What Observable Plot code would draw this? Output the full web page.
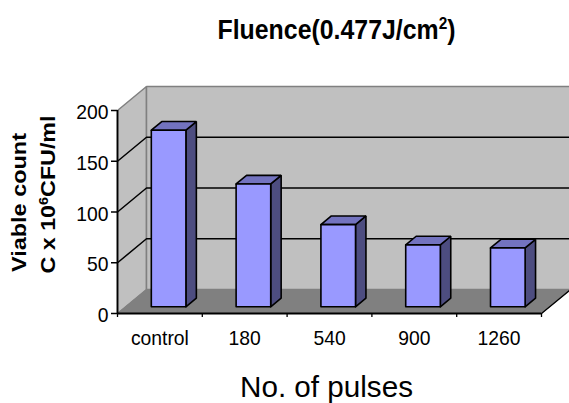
<!DOCTYPE html>
<html><head><meta charset="utf-8">
<script src="https://cdn.jsdelivr.net/npm/d3@7"></script>
<script src="https://cdn.jsdelivr.net/npm/@observablehq/plot@0.6"></script>
<style>html,body{margin:0;background:#fff}svg{display:block}</style>
</head><body><div id="c"></div>
<script>
const categories = ["control", "180", "540", "900", "1260"];
const viable = [174, 121, 81, 61, 58];
const yTicks = [0, 50, 100, 150, 200];
const gridValues = [50, 100, 150];

// oblique projection, in data units
const depthX = 0.342, depthY = 23.6;
const P = (c, v, d) => ({x: c + d * depthX, y: v + d * depthY});
const poly = (id, pts) => pts.map(p => ({id, ...p}));
const bL = 0.303, bR = 0.711, dF = 0.28, dB = 0.64;

const leftWall = poly("l", [P(0,0,0), P(0,0,1), P(0,200,1), P(0,200,0), P(0,0,0)]);
const backWall = poly("b", [P(0,0,1), P(5,0,1), P(5,200,1), P(0,200,1), P(0,0,1)]);
const floorPlane = poly("f", [P(0,0,0), P(5,0,0), P(5,0,1), P(0,0,1), P(0,0,0)]);
const gridLines = gridValues.flatMap(v => poly("g"+v, [P(0,v,0), P(0,v,1), P(5,v,1)]));
const barFace = [], barTop = [], barSide = [];
viable.forEach((v, i) => {
  const a = i + bL, b = i + bR;
  barFace.push(...poly("a"+i, [P(a,0,dF), P(b,0,dF), P(b,v,dF), P(a,v,dF), P(a,0,dF)]));
  barTop.push(...poly("t"+i, [P(a,v,dF), P(b,v,dF), P(b,v,dB), P(a,v,dB), P(a,v,dF)]));
  barSide.push(...poly("s"+i, [P(b,0,dF), P(b,0,dB), P(b,v,dB), P(b,v,dF), P(b,0,dF)]));
});
const shape = (d, fill, stroke, sw) => Plot.line(d, {x:"x", y:"y", z:"id", fill, stroke, strokeWidth:sw, curve:"linear", strokeLinejoin:"miter"});
const label = (t, o) => Plot.text([t], {text:d=>d, fill:"#000", fontFamily:"Liberation Sans", frameAnchor:"top-left", textAnchor:"middle", lineAnchor:"middle", ...o});

const chart = Plot.plot({
  width:569, height:403, marginLeft:117, marginRight:28, marginTop:110, marginBottom:90,
  style:{background:"#fff", fontFamily:"Liberation Sans", overflow:"hidden"},
  x:{type:"linear", domain:[0,5], axis:null},
  y:{type:"linear", domain:[0,200], axis:null},
  marks:[
    shape(leftWall, "#c0c0c0", "#808080", 1.5),
    shape(backWall, "#c0c0c0", "#808080", 1.5),
    shape(gridLines, "none", "#000", 1.5),
    shape(floorPlane, "#808080", "#808080", 1),
    shape(barSide, "#4d4d80", "#000", 1.6),
    shape(barTop, "#7373bf", "#000", 1.6),
    shape(barFace, "#9999ff", "#000", 1.6),
    Plot.ruleY([0], {stroke:"#000", strokeWidth:1.8}),
    Plot.ruleX([0], {stroke:"#000", strokeWidth:1.8}),
    Plot.line(poly("e",[P(5,0,0),P(5,0,1)]), {x:"x",y:"y",stroke:"#000",strokeWidth:1.3}),
    Plot.axisY({ticks:yTicks, anchor:"left", tickSize:6, tickFormat:()=>"", label:null, strokeWidth:1.5}),
    Plot.axisY({ticks:yTicks, anchor:"left", tickSize:0, tickPadding:9, dy:2, fontSize:21, label:null}),
    Plot.axisX({ticks:d3.range(0,6), tickFormat:()=>"", anchor:"bottom", tickSize:4, label:null, strokeWidth:1.3}),
    Plot.axisX({ticks:categories.map((c,i)=>i+0.5), tickFormat:t=>categories[t-0.5], anchor:"bottom", tickSize:0, tickPadding:17, fontSize:21, label:null}),
    label("Fluence(0.477J/cm^2^)", {dx:219, dy:-80, fontSize:28, fontWeight:"bold"}),
    label("No. of pulses", {dx:209, dy:277, fontSize:30}),
    label("Viable count", {dx:-98, dy:92, rotate:-90, fontSize:21, fontWeight:"bold"}),
    label("C x 10^6^CFU/ml", {dx:-69, dy:84, rotate:-90, fontSize:21, fontWeight:"bold"})
  ]
});
const lengths = new Map([
  ["Fluence(0.477J/cm^2^)", 238], ["No. of pulses", 173],
  ["Viable count", 139], ["C x 10^6^CFU/ml", 158]
]);
document.getElementById("c").append(chart);
d3.select(chart).selectAll("text").each(function(){
  const t = this.textContent;
  if (!t) return;
  if (t.includes("^")) {
    const fs = parseFloat(this.parentNode.getAttribute("font-size") || this.getAttribute("font-size")) || 21;
    const [a, s, b] = t.split("^");
    const el = d3.select(this).text(null);
    el.append("tspan").text(a);
    el.append("tspan").attr("dy", -fs*0.36).attr("font-size", fs*0.62).text(s);
    el.append("tspan").attr("dy", fs*0.36).text(b);
  }
  const len = lengths.get(t) || this.getComputedTextLength() * 0.92;
  this.setAttribute("textLength", len);
  this.setAttribute("lengthAdjust", "spacingAndGlyphs");
});
</script></body></html>
